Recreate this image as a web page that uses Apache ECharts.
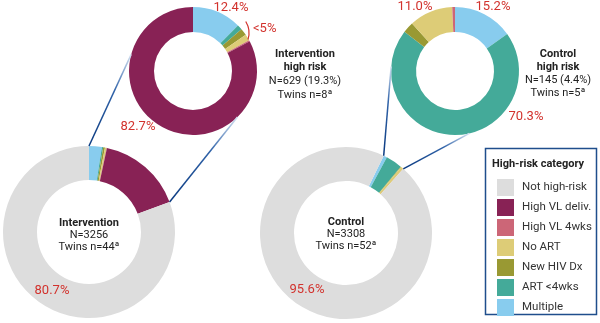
<!DOCTYPE html>
<html><head><meta charset="utf-8">
<script src="https://cdn.jsdelivr.net/npm/echarts@6/dist/echarts.min.js"></script>
<style>html,body{margin:0;padding:0;background:#fff}#c{width:600px;height:323px}</style>
</head><body><div id="c"></div>
<script>
// Categories in legend order
const categories = ['Not high-risk','High VL deliv.','High VL 4wks','No ART','New HIV Dx','ART <4wks','Multiple'];
const catColors = ['#DDDDDD','#882255','#CC6677','#DDCC77','#999933','#44AA99','#88CCEE'];
// Counts per category (legend order)
const interventionAll  = [2627, 520, 2, 10, 11, 8, 78];
const interventionHigh = [0,    520, 2, 10, 11, 8, 78];
const controlAll       = [3163, 0,   1, 16, 4, 102, 22];
const controlHigh      = [0,    0,   1, 16, 4, 102, 22];
// Text labels
const interventionHighLabels = ['12.4%', '<5%', '82.7%'];
const interventionAllLabels = ['80.7%'];
const controlHighLabels = ['11.0%', '15.2%', '70.3%'];
const controlAllLabels = ['95.6%'];

const FONT = 'Roboto';
const RED = '#D2322D';
const BLUE = '#1F4E8C';

function pieData(vals){
  const out = [];
  for (let i = vals.length - 1; i >= 0; i--) {
    out.push({name: categories[i], value: vals[i], itemStyle: {color: catColors[i]}});
  }
  return out;
}
function pie(id, vals, cx, cy, r0, r1, startAngle){
  return {
    type: 'pie', id: id, center: [cx, cy], radius: [r0, r1], startAngle: startAngle,
    clockwise: true, data: pieData(vals), label: {show: false}, labelLine: {show: false},
    itemStyle: {borderWidth: 0}, emphasis: {disabled: true}, silent: true, avoidLabelOverlap: false
  };
}
const L = {
  ih: {cx: 193, cy: 71, r0: 39, r1: 64, off: 0},
  ch: {cx: 455, cy: 71, r0: 39, r1: 64, off: 0},
  ia: {cx: 89, cy: 232, r0: 52, r1: 86, off: 0},
  ca: {cx: 346, cy: 233, r0: 52, r1: 86, off: 26}
};
function polar(p, r, deg){ // deg clockwise from 12 o'clock
  const a = deg * Math.PI / 180;
  return [p.cx + r * Math.sin(a), p.cy - r * Math.cos(a)];
}
function sum(a){ return a.reduce((s, v) => s + v, 0); }

function connector(big, bigAngle, small, smallAngle){
  const p1 = polar(big, big.r1, bigAngle);
  const p2 = polar(small, small.r1, smallAngle);
  return {
    type: 'line', silent: true, z: 10,
    shape: {x1: p1[0], y1: p1[1], x2: p2[0], y2: p2[1]},
    style: {lineWidth: 1.5, stroke: {type: 'linear', x: p1[0], y: p1[1], x2: p2[0], y2: p2[1], global: true,
      colorStops: [{offset: 0, color: '#0B3A80'}, {offset: 0.6, color: '#2F62A8'}, {offset: 1, color: '#D5E2F2'}]}}
  };
}
const iFrac = (sum(interventionAll) - interventionAll[0]) / sum(interventionAll);
const cFrac = (sum(controlAll) - controlAll[0]) / sum(controlAll);

function txt(x, y, s, opts){
  return {type: 'text', silent: true, x: x, y: y, z: 10,
    style: Object.assign({text: s, font: '11px ' + FONT, fill: '#222', align: 'center', verticalAlign: 'middle'}, opts || {})};
}
function redTxt(x, y, s, align){
  return txt(x, y, s, {font: '13px ' + FONT, fill: RED, align: align || 'center'});
}

const graphics = [
  connector(L.ia, 0, L.ih, 285),
  connector(L.ia, 360 * iFrac, L.ih, 136),
  connector(L.ca, L.ca.off, L.ch, 274),
  connector(L.ca, L.ca.off + 360 * cFrac, L.ch, 167),
  redTxt(231, 8, interventionHighLabels[0]),
  redTxt(253, 29, interventionHighLabels[1], 'left'),
  redTxt(138, 127, interventionHighLabels[2]),
  {type: 'arc', silent: true, z: 10, shape: {cx: 227, cy: 33, r: 22, startAngle: -0.55, endAngle: 0.3},
   style: {stroke: RED, lineWidth: 1.2, fill: null}},
  redTxt(52, 291, interventionAllLabels[0]),
  redTxt(415, 7, controlHighLabels[0]),
  redTxt(493, 7, controlHighLabels[1]),
  redTxt(526, 117, controlHighLabels[2]),
  redTxt(307, 290, controlAllLabels[0]),
  // center / side texts
  txt(305, 54, 'Intervention', {font: 'bold 11px ' + FONT}),
  txt(305, 67, 'high risk', {font: 'bold 11px ' + FONT}),
  txt(305, 81, 'N=629 (19.3%)'),
  txt(305, 95, 'Twins n=8ª'),
  txt(558, 54, 'Control', {font: 'bold 11px ' + FONT}),
  txt(558, 67, 'high risk', {font: 'bold 11px ' + FONT}),
  txt(558, 80, 'N=145 (4.4%)'),
  txt(558, 93, 'Twins n=5ª'),
  txt(89, 223, 'Intervention', {font: 'bold 11px ' + FONT}),
  txt(89, 235, 'N=3256'),
  txt(89, 247, 'Twins n=44ª'),
  txt(346, 222, 'Control', {font: 'bold 11px ' + FONT}),
  txt(346, 234, 'N=3308'),
  txt(346, 246, 'Twins n=52ª'),
  // legend box
  {type: 'rect', silent: true, z: 1, shape: {x: 485.5, y: 148.5, width: 111, height: 166},
   style: {fill: '#fff', stroke: BLUE, lineWidth: 1.5}},
  txt(492, 164, 'High-risk category', {font: 'bold 11px ' + FONT, align: 'left'})
];

const chart = echarts.init(document.getElementById('c'), null, {renderer: 'canvas'});
chart.setOption({
  animation: false,
  legend: {
    data: categories, orient: 'vertical', left: 492, top: 174, z: 20,
    itemWidth: 17, itemHeight: 17, itemGap: 3, icon: 'rect', selectedMode: false,
    textStyle: {fontFamily: FONT, fontSize: 11.5, color: '#333', padding: [0, 0, 0, 3]}
  },
  graphic: {elements: graphics},
  series: [
    pie('ih', interventionHigh, L.ih.cx, L.ih.cy, L.ih.r0, L.ih.r1, 90 - L.ih.off),
    pie('ch', controlHigh, L.ch.cx, L.ch.cy, L.ch.r0, L.ch.r1, 90 - L.ch.off),
    pie('ia', interventionAll, L.ia.cx, L.ia.cy, L.ia.r0, L.ia.r1, 90 - L.ia.off),
    pie('ca', controlAll, L.ca.cx, L.ca.cy, L.ca.r0, L.ca.r1, 90 - L.ca.off)
  ]
});
</script></body></html>
